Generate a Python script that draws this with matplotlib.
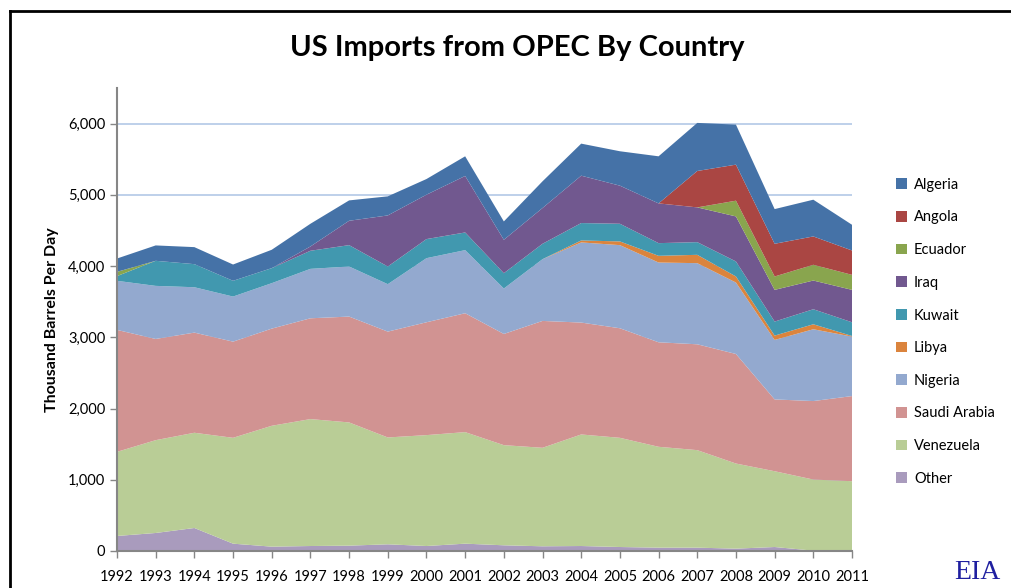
import numpy as np
import matplotlib
matplotlib.use("Agg")
from matplotlib import pyplot as plt
from matplotlib.patches import Patch
from matplotlib.lines import Line2D
from matplotlib.ticker import FuncFormatter

plt.rcParams['font.family'] = ['Lato', 'DejaVu Sans']

# thousand barrels per day
years = list(range(1992, 2012))
other = [211, 253, 323, 103, 61, 70, 75, 94, 70, 103, 80, 66, 70, 56, 47, 47, 33, 56, 5, 0]
venezuela = [1181, 1303, 1337, 1486, 1697, 1782, 1730, 1500, 1557, 1566, 1406, 1383, 1566, 1533, 1416, 1369, 1195, 1064, 998, 980]
saudi = [1712, 1421, 1406, 1350, 1364, 1415, 1486, 1486, 1584, 1669, 1561, 1781, 1571, 1538, 1467, 1486, 1538, 1008, 1102, 1195]
nigeria = [689, 745, 637, 633, 638, 694, 703, 666, 900, 886, 638, 867, 1125, 1167, 1120, 1139, 1003, 835, 1008, 835]
libya = [0, 0, 0, 0, 0, 0, 0, 0, 0, 0, 0, 0, 28, 52, 94, 117, 85, 61, 70, 9]
kuwait = [66, 352, 324, 221, 211, 254, 300, 248, 268, 248, 215, 216, 244, 248, 178, 178, 211, 197, 211, 192]
iraq = [0, 0, 0, 0, 0, 60, 342, 717, 623, 793, 469, 502, 665, 535, 558, 488, 632, 445, 403, 455]
ecuador = [60, 0, 0, 0, 0, 0, 0, 0, 0, 0, 0, 0, 0, 0, 0, 0, 221, 188, 221, 211]
angola = [0, 0, 0, 0, 0, 0, 0, 0, 0, 0, 0, 0, 0, 0, 0, 511, 506, 459, 398, 342]
algeria = [187, 216, 239, 229, 258, 319, 286, 268, 220, 276, 258, 375, 450, 483, 661, 675, 562, 487, 516, 361]

names = ['Other', 'Venezuela', 'Saudi Arabia', 'Nigeria', 'Libya', 'Kuwait', 'Iraq', 'Ecuador', 'Angola', 'Algeria']
series = [other, venezuela, saudi, nigeria, libya, kuwait, iraq, ecuador, angola, algeria]
colors = ['#a99bbd', '#b9cd96', '#d19392', '#93a9cf', '#db843d', '#4198af', '#71588f', '#89a54e', '#aa4643', '#4572a7']

fig = plt.figure(figsize=(10.11, 5.88), dpi=100)
ax = fig.add_axes([117 / 1011, 1 - 551 / 588, 735 / 1011, 463 / 588])

x = np.arange(len(years))
ax.stackplot(x, *series, colors=colors, linewidth=0, zorder=2)

ax.set_xlim(0, len(years) - 1)
ax.set_ylim(0, 6500)
ax.set_yticks(np.arange(0, 7000, 1000))
ax.yaxis.set_major_formatter(FuncFormatter(lambda v, p: '{:,.0f}'.format(v)))
ax.set_xticks(x)
ax.set_xticklabels([str(y) for y in years])
ax.grid(axis='y', color='#b3c8e6', linewidth=1.2, zorder=0)
ax.set_axisbelow(True)

for s in ['top', 'right']:
    ax.spines[s].set_visible(False)
for s in ['left', 'bottom']:
    ax.spines[s].set_color('#868686')
    ax.spines[s].set_linewidth(1.5)
    ax.spines[s].set_zorder(3)
ax.tick_params(axis='both', colors='#868686', length=5, width=1, labelcolor='black', labelsize=10.5)
ax.tick_params(axis='x', pad=9)

ax.set_ylabel('Thousand Barrels Per Day', fontsize=11.5, fontweight='bold', labelpad=6)

fig.text(0.512, 0.918, 'US Imports from OPEC By Country', ha='center', va='center',
         fontsize=21, fontweight='bold')
fig.text(0.967, 0.027, 'EIA', ha='center', va='center', fontsize=20,
         family='Liberation Serif', color='#1f1fa0')

# legend, top to bottom is reverse of stacking
handles = [Patch(facecolor=c, edgecolor='none', label=n) for n, c in zip(names[::-1], colors[::-1])]
fig.legend(handles=handles, loc='upper left', bbox_to_anchor=(890 / 1011, 1 - 172 / 588),
           frameon=False, fontsize=10.5, handlelength=0.75, handleheight=0.75,
           handletextpad=0.5, labelspacing=1.28, borderaxespad=0)

# chart frame (cropped at right and bottom)
fig.add_artist(Line2D([10 / 1011, 1.0], [1 - 11 / 588, 1 - 11 / 588], color='black', linewidth=2))
fig.add_artist(Line2D([10 / 1011, 10 / 1011], [0, 1 - 11 / 588], color='black', linewidth=2))

fig.savefig('out.png', dpi=100)
